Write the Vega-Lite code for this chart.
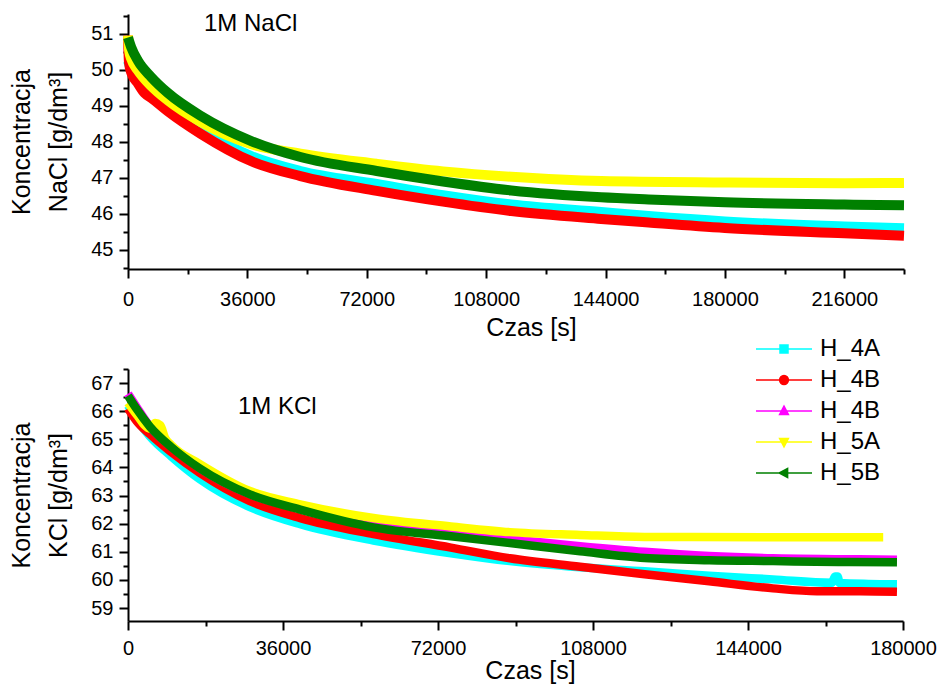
{
  "$schema": "https://vega.github.io/schema/vega-lite/v6.json",
  "background": "white",
  "padding": {"left": 9, "top": 11, "right": 0, "bottom": 2},
  "spacing": -3,
  "datasets": {
    "nacl": [
      {"s":"1","t":0,"v":50.25},{"s":"1","t":1000,"v":50.0},{"s":"1","t":3000,"v":49.7},{"s":"1","t":5000,"v":49.45},{"s":"1","t":7000,"v":49.36},{"s":"1","t":12000,"v":48.98},{"s":"1","t":22000,"v":48.36},{"s":"1","t":37000,"v":47.61},{"s":"1","t":52000,"v":47.19},{"s":"1","t":75000,"v":46.83},{"s":"1","t":95000,"v":46.52},{"s":"1","t":115600,"v":46.26},{"s":"1","t":142700,"v":46.05},{"s":"1","t":157000,"v":45.94},{"s":"1","t":180000,"v":45.79},{"s":"1","t":216000,"v":45.65},{"s":"1","t":234000,"v":45.6},
      {"s":"2","t":0,"v":50.95},{"s":"2","t":300,"v":50.2},{"s":"2","t":1000,"v":49.92},{"s":"2","t":3000,"v":49.62},{"s":"2","t":5000,"v":49.35},{"s":"2","t":7000,"v":49.22},{"s":"2","t":12000,"v":48.85},{"s":"2","t":22000,"v":48.22},{"s":"2","t":37000,"v":47.47},{"s":"2","t":52000,"v":47.05},{"s":"2","t":75000,"v":46.64},{"s":"2","t":95000,"v":46.34},{"s":"2","t":115600,"v":46.08},{"s":"2","t":142700,"v":45.86},{"s":"2","t":157000,"v":45.76},{"s":"2","t":180000,"v":45.61},{"s":"2","t":216000,"v":45.46},{"s":"2","t":234000,"v":45.39},
      {"s":"4","t":0,"v":50.95},{"s":"4","t":400,"v":50.5},{"s":"4","t":1000,"v":50.3},{"s":"4","t":3000,"v":49.98},{"s":"4","t":7000,"v":49.55},{"s":"4","t":12000,"v":49.15},{"s":"4","t":22000,"v":48.55},{"s":"4","t":37000,"v":47.94},{"s":"4","t":52000,"v":47.67},{"s":"4","t":75000,"v":47.39},{"s":"4","t":95000,"v":47.18},{"s":"4","t":115600,"v":47.03},{"s":"4","t":142700,"v":46.91},{"s":"4","t":180000,"v":46.87},{"s":"4","t":216000,"v":46.85},{"s":"4","t":234000,"v":46.86},
      {"s":"5","t":0,"v":50.9},{"s":"5","t":1000,"v":50.62},{"s":"5","t":3000,"v":50.25},{"s":"5","t":7000,"v":49.8},{"s":"5","t":12000,"v":49.36},{"s":"5","t":22000,"v":48.72},{"s":"5","t":37000,"v":48.03},{"s":"5","t":52000,"v":47.58},{"s":"5","t":75000,"v":47.19},{"s":"5","t":95000,"v":46.9},{"s":"5","t":115600,"v":46.65},{"s":"5","t":142700,"v":46.46},{"s":"5","t":157000,"v":46.4},{"s":"5","t":180000,"v":46.32},{"s":"5","t":216000,"v":46.26},{"s":"5","t":234000,"v":46.24}
    ],
    "kcl": [
      {"s":"1","t":0,"v":66.2},{"s":"1","t":2000,"v":65.72},{"s":"1","t":5100,"v":65.1},{"s":"1","t":10000,"v":64.4},{"s":"1","t":16700,"v":63.58},{"s":"1","t":28300,"v":62.59},{"s":"1","t":40000,"v":61.98},{"s":"1","t":57000,"v":61.4},{"s":"1","t":75000,"v":60.95},{"s":"1","t":88700,"v":60.67},{"s":"1","t":105000,"v":60.45},{"s":"1","t":120000,"v":60.31},{"s":"1","t":135000,"v":60.15},{"s":"1","t":149800,"v":60.02},{"s":"1","t":163500,"v":59.9},{"s":"1","t":164200,"v":60.12},{"s":"1","t":164800,"v":60.12},{"s":"1","t":165300,"v":59.89},{"s":"1","t":172000,"v":59.86},{"s":"1","t":178600,"v":59.85},
      {"s":"2","t":0,"v":66.1},{"s":"2","t":2000,"v":65.65},{"s":"2","t":5100,"v":65.18},{"s":"2","t":10000,"v":64.55},{"s":"2","t":16700,"v":63.8},{"s":"2","t":28300,"v":62.8},{"s":"2","t":40000,"v":62.2},{"s":"2","t":57000,"v":61.63},{"s":"2","t":75000,"v":61.15},{"s":"2","t":88700,"v":60.77},{"s":"2","t":105000,"v":60.47},{"s":"2","t":120000,"v":60.2},{"s":"2","t":135000,"v":59.95},{"s":"2","t":149800,"v":59.7},{"s":"2","t":160000,"v":59.6},{"s":"2","t":170000,"v":59.6},{"s":"2","t":178600,"v":59.58},
      {"s":"3","t":0,"v":66.62},{"s":"3","t":2000,"v":66.15},{"s":"3","t":5100,"v":65.45},{"s":"3","t":10000,"v":64.75},{"s":"3","t":16700,"v":63.97},{"s":"3","t":28300,"v":63.05},{"s":"3","t":40000,"v":62.54},{"s":"3","t":57000,"v":61.95},{"s":"3","t":75000,"v":61.65},{"s":"3","t":88700,"v":61.45},{"s":"3","t":105000,"v":61.2},{"s":"3","t":120000,"v":61.0},{"s":"3","t":135000,"v":60.85},{"s":"3","t":149800,"v":60.77},{"s":"3","t":165000,"v":60.74},{"s":"3","t":178600,"v":60.72},
      {"s":"4","t":0,"v":66.3},{"s":"4","t":2000,"v":65.88},{"s":"4","t":5100,"v":65.38},{"s":"4","t":6300,"v":65.58},{"s":"4","t":7500,"v":65.5},{"s":"4","t":8600,"v":65.05},{"s":"4","t":10000,"v":64.8},{"s":"4","t":16700,"v":64.12},{"s":"4","t":28300,"v":63.16},{"s":"4","t":40000,"v":62.69},{"s":"4","t":57000,"v":62.2},{"s":"4","t":75000,"v":61.9},{"s":"4","t":88700,"v":61.7},{"s":"4","t":105000,"v":61.6},{"s":"4","t":120000,"v":61.53},{"s":"4","t":149800,"v":61.52},{"s":"4","t":175400,"v":61.52},
      {"s":"5","t":0,"v":66.55},{"s":"5","t":2000,"v":66.08},{"s":"5","t":5100,"v":65.45},{"s":"5","t":10000,"v":64.73},{"s":"5","t":16700,"v":63.96},{"s":"5","t":28300,"v":63.04},{"s":"5","t":40000,"v":62.5},{"s":"5","t":57000,"v":61.87},{"s":"5","t":75000,"v":61.55},{"s":"5","t":88700,"v":61.31},{"s":"5","t":105000,"v":61.02},{"s":"5","t":120000,"v":60.78},{"s":"5","t":135000,"v":60.7},{"s":"5","t":149800,"v":60.67},{"s":"5","t":165000,"v":60.64},{"s":"5","t":178600,"v":60.63}
    ]
  },
  "vconcat": [
    {
      "width": 776,
      "height": 255,
      "layer": [
        {
          "data": {"name": "nacl"},
          "mark": {"type": "line", "strokeWidth": 10, "interpolate": "monotone"},
          "encoding": {
            "x": {"field": "t", "type": "quantitative",
              "scale": {"domain": [0, 234000], "nice": false, "zero": false},
              "axis": {"values": [0, 36000, 72000, 108000, 144000, 180000, 216000], "format": "d", "tickSize": 9, "labelPadding": 11, "title": "Czas [s]", "titlePadding": 6, "titleX": 403}},
            "y": {"field": "v", "type": "quantitative",
              "scale": {"domain": [44.47, 51.55], "nice": false, "zero": false},
              "axis": {"values": [45, 46, 47, 48, 49, 50, 51], "tickSize": 9, "labelPadding": 6, "title": ["Koncentracja", "NaCl [g/dm³]"], "titleLineHeight": 37, "titlePadding": 19}},
            "color": {"field": "s", "type": "nominal",
              "scale": {"domain": ["1", "2", "3", "4", "5"], "range": ["#00ffff", "#ff0000", "#ff00ff", "#ffff00", "#008000"]},
              "legend": null}
          }
        },
        {
          "data": {"values": [{"label": "1M NaCl"}]},
          "mark": {"type": "text", "fontSize": 24, "align": "left", "baseline": "alphabetic", "color": "black", "font": "Liberation Sans"},
          "encoding": {
            "x": {"datum": 22900, "type": "quantitative", "scale": {"domain": [0, 234000], "nice": false, "zero": false},
              "axis": {"orient": "bottom", "values": [18000, 54000, 90000, 126000, 162000, 198000, 234000], "labels": false, "domain": false, "tickSize": 5, "title": null}},
            "y": {"datum": 51.08, "type": "quantitative", "scale": {"domain": [44.47, 51.55], "nice": false, "zero": false},
              "axis": {"orient": "left", "values": [44.5, 45.5, 46.5, 47.5, 48.5, 49.5, 50.5, 51.5], "labels": false, "domain": false, "tickSize": 5, "title": null}},
            "text": {"field": "label"}
          }
        }
      ],
      "resolve": {"axis": {"x": "independent", "y": "independent"}}
    },
    {
      "width": 775,
      "height": 252,
      "layer": [
        {
          "data": {"name": "kcl"},
          "mark": {"type": "line", "strokeWidth": 8.5, "interpolate": "monotone"},
          "encoding": {
            "x": {"field": "t", "type": "quantitative",
              "scale": {"domain": [0, 180000], "nice": false, "zero": false},
              "axis": {"values": [0, 36000, 72000, 108000, 144000, 180000], "format": "d", "tickSize": 9, "labelPadding": 8, "title": "Czas [s]", "titlePadding": 0, "titleX": 402}},
            "y": {"field": "v", "type": "quantitative",
              "scale": {"domain": [58.54, 67.5], "nice": false, "zero": false},
              "axis": {"values": [59, 60, 61, 62, 63, 64, 65, 66, 67], "tickSize": 9, "labelPadding": 6, "title": ["Koncentracja", "KCl [g/dm³]"], "titleLineHeight": 37, "titlePadding": 19}},
            "color": {"field": "s", "type": "nominal",
              "scale": {"domain": ["1", "2", "3", "4", "5"], "range": ["#00ffff", "#ff0000", "#ff00ff", "#ffff00", "#008000"]},
              "legend": {
                "title": null, "orient": "none", "legendX": 644, "legendY": -32,
                "padding": 0, "symbolSize": 64, "labelOffset": 24, "rowPadding": 7,
                "labelFontSize": 24, "labelFont": "Liberation Sans", "labelColor": "black",
                "labelExpr": "datum.value === '1' ? 'H_4A' : datum.value === '2' ? 'H_4B' : datum.value === '3' ? 'H_4B' : datum.value === '4' ? 'H_5A' : 'H_5B'",
                "encode": {
                  "symbols": {
                    "update": {
                      "shape": {"signal": "datum.value === '1' ? 'M-7,0H7M-1,-1H1V1H-1Z' : datum.value === '2' ? 'M-7,0H7M-1.1,0A1.1,1.1 0 1,0 1.1,0A1.1,1.1 0 1,0 -1.1,0Z' : datum.value === '3' ? 'M-7,0H7M0,-1.2L1.1,0.9H-1.1Z' : datum.value === '4' ? 'M-7,0H7M0,1.2L1.1,-0.9H-1.1Z' : 'M-7,0H7M-1.2,0L0.9,-1.1V1.1Z'"},
                      "fill": {"signal": "datum.value === '1' ? '#00ffff' : datum.value === '2' ? '#ff0000' : datum.value === '3' ? '#ff00ff' : datum.value === '4' ? '#ffff00' : '#008000'"},
                      "stroke": {"signal": "datum.value === '1' ? '#00ffff' : datum.value === '2' ? '#ff0000' : datum.value === '3' ? '#ff00ff' : datum.value === '4' ? '#ffff80' : '#4a9a4a'"},
                      "strokeWidth": {"value": 1.5},
                      "opacity": {"value": 1}
                    }
                  }
                }
              }}
          }
        },
        {
          "data": {"values": [{"label": "1M KCl"}]},
          "mark": {"type": "text", "fontSize": 24, "align": "left", "baseline": "alphabetic", "color": "black", "font": "Liberation Sans"},
          "encoding": {
            "x": {"datum": 25550, "type": "quantitative", "scale": {"domain": [0, 180000], "nice": false, "zero": false},
              "axis": {"orient": "bottom", "values": [18000, 54000, 90000, 126000, 162000], "labels": false, "domain": false, "tickSize": 5, "title": null}},
            "y": {"datum": 65.9, "type": "quantitative", "scale": {"domain": [58.54, 67.5], "nice": false, "zero": false},
              "axis": {"orient": "left", "values": [59.5, 60.5, 61.5, 62.5, 63.5, 64.5, 65.5, 66.5, 67.5], "labels": false, "domain": false, "tickSize": 5, "title": null}},
            "text": {"field": "label"}
          }
        }
      ],
      "resolve": {"axis": {"x": "independent", "y": "independent"}}
    }
  ],
  "resolve": {"scale": {"color": "independent"}, "legend": {"color": "independent"}},
  "config": {
    "font": "Liberation Sans",
    "view": {"stroke": null},
    "axis": {
      "grid": false, "domainColor": "#000000", "domainWidth": 2, "tickColor": "#000000", "tickWidth": 2,
      "labelColor": "#000000", "labelFont": "Liberation Sans", "labelFontSize": 20,
      "titleFont": "Liberation Sans", "titleFontSize": 25, "titleFontWeight": "normal", "titleColor": "#000000",
      "labelFlush": false, "labelOverlap": false
    }
  }
}
